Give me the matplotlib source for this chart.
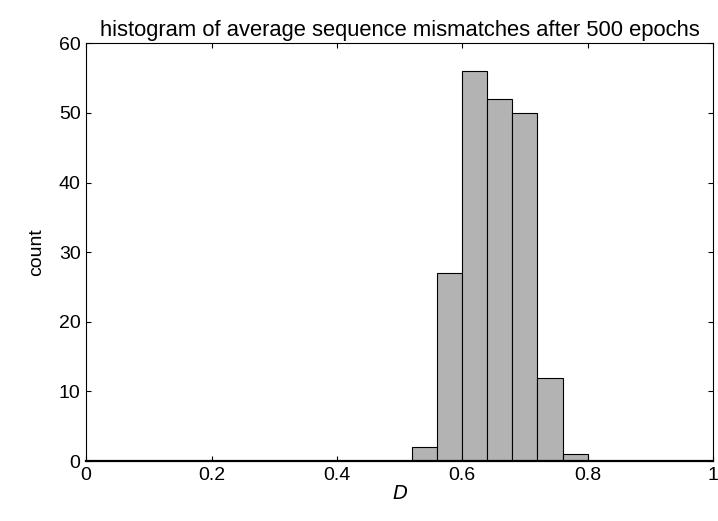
import numpy as np
import matplotlib.pyplot as plt

plt.rcParams['font.family'] = ['Liberation Sans', 'DejaVu Sans']

# histogram bins (edges) and counts
bin_edges = [0.52, 0.56, 0.60, 0.64, 0.68, 0.72, 0.76, 0.80]
counts = [2, 27, 56, 52, 50, 12, 1]

fig = plt.figure(figsize=(7.18, 5.21), dpi=100)
ax = fig.add_axes([0.120, 0.115, 0.873, 0.802])

ax.bar(bin_edges[:-1], counts, width=np.diff(bin_edges), align='edge',
       color='#b3b3b3', edgecolor='black', linewidth=0.8)

ax.set_xlim(0, 1)
ax.set_ylim(0, 60)
ax.set_xticks([0, 0.2, 0.4, 0.6, 0.8, 1])
ax.set_xticklabels(['0', '0.2', '0.4', '0.6', '0.8', '1'])
ax.set_yticks(range(0, 61, 10))
ax.tick_params(direction='in', length=3.5, width=0.8, top=True, right=True,
               labelsize=14, pad=4)
for s in ax.spines.values():
    s.set_linewidth(0.8)
ax.spines['bottom'].set_linewidth(1.6)

ax.set_xlabel('$D$', fontsize=14, labelpad=1)
ax.set_ylabel('count', fontsize=14, labelpad=10)
ax.set_title('histogram of average sequence mismatches after 500 epochs',
             fontsize=15.8, pad=5)

plt.savefig('out.png', dpi=100)
